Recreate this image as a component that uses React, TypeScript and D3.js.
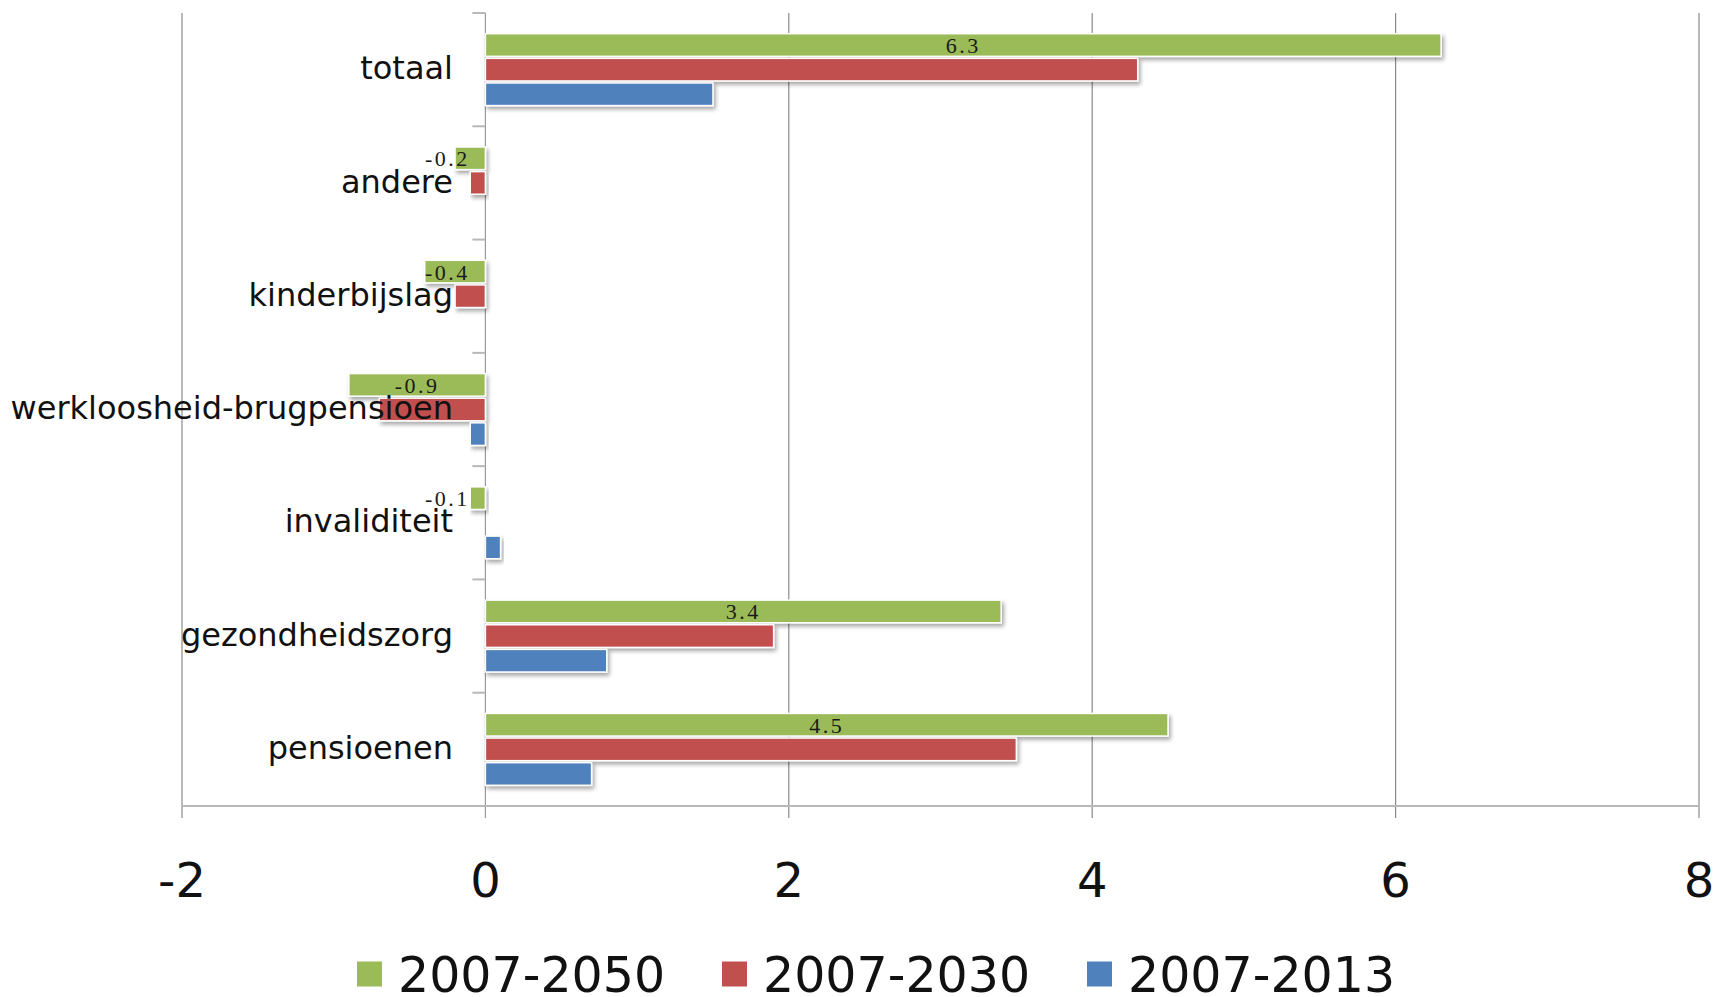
import React from "react";
import * as d3 from "d3";

const categories = [
  "totaal",
  "andere",
  "kinderbijslag",
  "werkloosheid-brugpensioen",
  "invaliditeit",
  "gezondheidszorg",
  "pensioenen",
];
const seriesNames = ["2007-2050", "2007-2030", "2007-2013"];
const seriesColors = ["#9BBB59", "#C0504D", "#4F81BD"];
const values2050 = [6.3, -0.2, -0.4, -0.9, -0.1, 3.4, 4.5];
const values2030 = [4.3, -0.1, -0.2, -0.7, 0, 1.9, 3.5];
const values2013 = [1.5, 0, 0, -0.1, 0.1, 0.8, 0.7];
const xTicks = [-2, 0, 2, 4, 6, 8];
const labelledSeries = [true, false, false];

const W = 1715;
const H = 997;
const margin = { left: 182, right: 16, top: 13, bottom: 191 };

export default function App() {
  const seriesValues = [values2050, values2030, values2013];
  const x = d3.scaleLinear().domain([-2, 8]).range([margin.left, W - margin.right]);
  const y = d3
    .scaleBand<string>()
    .domain(categories)
    .range([margin.top, H - margin.bottom])
    .paddingInner(0)
    .paddingOuter(0);
  const inner = d3
    .scaleBand<string>()
    .domain(seriesNames)
    .range([0, y.bandwidth()])
    .paddingInner(0)
    .paddingOuter(0.8);
  const x0 = x(0);
  const yTop = margin.top;
  const yBottom = H - margin.bottom;
  const gridColor = "#8a8a8a";
  const fontSans = "'DejaVu Sans', Verdana, sans-serif";
  const fontSerif = "'Liberation Serif', 'Times New Roman', serif";

  const legendStart = 357;
  const legendStep = 365;
  const legendY = 974;

  return (
    <div style={{ position: "fixed", left: 0, top: 0 }}>
      <svg width={W} height={H} style={{ display: "block", background: "#fff" }}>
        <defs>
          <filter id="shadow" x="-10%" y="-30%" width="130%" height="200%">
            <feGaussianBlur in="SourceAlpha" stdDeviation="2" />
            <feOffset dx="2" dy="3" result="blur" />
            <feComponentTransfer>
              <feFuncA type="linear" slope="0.35" />
            </feComponentTransfer>
            <feMerge>
              <feMergeNode />
              <feMergeNode in="SourceGraphic" />
            </feMerge>
          </filter>
        </defs>

        {/* vertical gridlines */}
        {xTicks.map((t) => (
          <line
            key={"g" + t}
            x1={x(t)}
            x2={x(t)}
            y1={yTop}
            y2={yBottom + 12}
            stroke={t === 0 ? "#9a9a9a" : gridColor}
            strokeWidth={1.2}
          />
        ))}
        {/* bottom axis */}
        <line x1={x(-2)} x2={x(8)} y1={yBottom} y2={yBottom} stroke="#b8b8b8" strokeWidth={2} />
        {/* category ticks */}
        {categories.map((c) => (
          <line
            key={"ct" + c}
            x1={x0 - 13}
            x2={x0}
            y1={y(c)!}
            y2={y(c)!}
            stroke="#b8b8b8"
            strokeWidth={2}
          />
        ))}

        {/* bars */}
        {categories.map((c, ci) => (
          <g key={"cat" + c}>
            {seriesNames.map((s, si) => {
              const v = seriesValues[si][ci];
              if (v === 0) return null;
              const bx = Math.min(x(v), x0);
              const bw = Math.abs(x(v) - x0);
              const by = y(c)! + inner(s)! + 1;
              const bh = inner.bandwidth() - 2;
              return (
                <rect
                  key={s}
                  x={bx}
                  y={by}
                  width={bw}
                  height={bh}
                  fill={seriesColors[si]}
                  stroke="#ffffff"
                  strokeWidth={1.5}
                  filter="url(#shadow)"
                />
              );
            })}
          </g>
        ))}

        {/* category labels */}
        {categories.map((c) => (
          <text
            key={"cl" + c}
            x={453}
            y={y(c)! + y.bandwidth() / 2}
            dy="0.3em"
            textAnchor="end"
            fontFamily={fontSans}
            fontSize={32}
            fill="#111"
          >
            {c}
          </text>
        ))}

        {/* data labels */}
        {categories.map((c, ci) =>
          seriesNames.map((s, si) => {
            if (!labelledSeries[si]) return null;
            const v = seriesValues[si][ci];
            let cx = (x(v) + x0) / 2;
            if (v < 0) cx = Math.min(cx, x0 - 38);
            const cy = y(c)! + inner(s)! + inner.bandwidth() / 2;
            return (
              <text
                key={"l" + c + s}
                x={cx}
                y={cy}
                dy="0.36em"
                textAnchor="middle"
                fontFamily={fontSerif}
                fontSize={22}
                letterSpacing={2.5}
                fill="#1a1a1a"
              >
                {v.toFixed(1)}
              </text>
            );
          })
        )}

        {/* x tick labels */}
        {xTicks.map((t) => (
          <text
            key={"xl" + t}
            x={x(t)}
            y={880}
            dy="0.36em"
            textAnchor="middle"
            fontFamily={fontSans}
            fontSize={48}
            fill="#111"
          >
            {t}
          </text>
        ))}

        {/* legend */}
        {seriesNames.map((s, i) => (
          <g key={"lg" + s} transform={`translate(${legendStart + i * legendStep},${legendY})`}>
            <rect x={0} y={-12.5} width={25} height={25} fill={seriesColors[i]} />
            <text
              x={41}
              y={0}
              dy="0.36em"
              fontFamily={fontSans}
              fontSize={49}
              fill="#111"
            >
              {s}
            </text>
          </g>
        ))}
      </svg>
    </div>
  );
}
